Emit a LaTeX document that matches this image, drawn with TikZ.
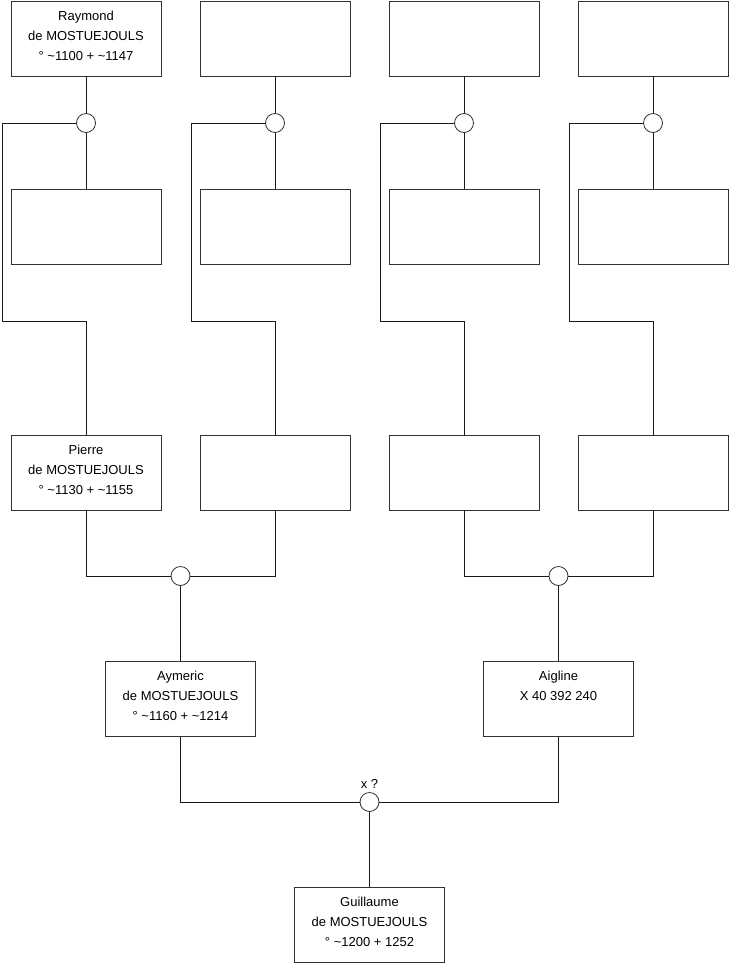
\documentclass[tikz,border=0pt]{standalone}
\usepackage{fontspec}
\setmainfont{Liberation Sans}
\usetikzlibrary{positioning}

\begin{document}
\begin{tikzpicture}[
    x=1pt, y=1pt,
    line width=0.8pt,
    box/.style={draw=black!80, fill=white, minimum width=150pt, minimum height=75pt, inner sep=0pt},
    person/.style={inner sep=0pt, align=center, font=\fontsize{13}{20}\selectfont},
    knot/.style={draw=black!80, fill=white, circle, minimum size=19pt, inner sep=0pt},
    link/.style={draw=black!90}
]
\useasboundingbox (0,0) rectangle (740,-975);

% top row
\node[box] (r1) at (86,-38.5) {};
\node[box] (r2) at (275,-38.5) {};
\node[box] (r3) at (464,-38.5) {};
\node[box] (r4) at (653,-38.5) {};
\node[person, below=10pt of r1.north] {Raymond\\de MOSTUEJOULS\\° \textasciitilde1100 + \textasciitilde1147};

% unions of the top row
\node[knot] (c1) at (86,-123) {};
\node[knot] (c2) at (275,-123) {};
\node[knot] (c3) at (464,-123) {};
\node[knot] (c4) at (653,-123) {};

% second row
\node[box] (m1) at (86,-227) {};
\node[box] (m2) at (275,-227) {};
\node[box] (m3) at (464,-227) {};
\node[box] (m4) at (653,-227) {};

% third row
\node[box] (p1) at (86,-472.5) {};
\node[box] (p2) at (275,-472.5) {};
\node[box] (p3) at (464,-472.5) {};
\node[box] (p4) at (653,-472.5) {};
\node[person, below=10pt of p1.north] {Pierre\\de MOSTUEJOULS\\° \textasciitilde1130 + \textasciitilde1155};

% bends of the long branches
\coordinate (k1) at (2,-321);
\coordinate (k2) at (191,-321);
\coordinate (k3) at (380,-321);
\coordinate (k4) at (569,-321);

% unions of the third row
\node[knot] (d1) at (180.5,-576) {};
\node[knot] (d2) at (558.5,-576) {};

% fourth row
\node[box] (g1) at (180.5,-699) {};
\node[box] (g2) at (558.5,-699) {};
\node[person, below=10pt of g1.north] {Aymeric\\de MOSTUEJOULS\\° \textasciitilde1160 + \textasciitilde1214};
\node[person, below=10pt of g2.north] {Aigline\\X 40 392 240};

% last union
\node[knot] (e) at (369.5,-802) {};
\node[person, above=3pt of e.north] (etag) {x ?};

\node[box] (gg) at (369.5,-925) {};
\node[person, below=10pt of gg.north] {Guillaume\\de MOSTUEJOULS\\° \textasciitilde1200 + 1252};

\draw[link] (r1) -- (c1) -- (m1);
\draw[link] (r2) -- (c2) -- (m2);
\draw[link] (r3) -- (c3) -- (m3);
\draw[link] (r4) -- (c4) -- (m4);
\draw[link] (c1.west) -| (k1) -| (p1.north);
\draw[link] (c2.west) -| (k2) -| (p2.north);
\draw[link] (c3.west) -| (k3) -| (p3.north);
\draw[link] (c4.west) -| (k4) -| (p4.north);
\draw[link] (p1.south) |- (d1.west);
\draw[link] (p2.south) |- (d1.east);
\draw[link] (p3.south) |- (d2.west);
\draw[link] (p4.south) |- (d2.east);
\draw[link] (d1) -- (g1);
\draw[link] (d2) -- (g2);
\draw[link] (g1.south) |- (e.west);
\draw[link] (g2.south) |- (e.east);
\draw[link] (e) -- (gg);
\end{tikzpicture}
\end{document}
